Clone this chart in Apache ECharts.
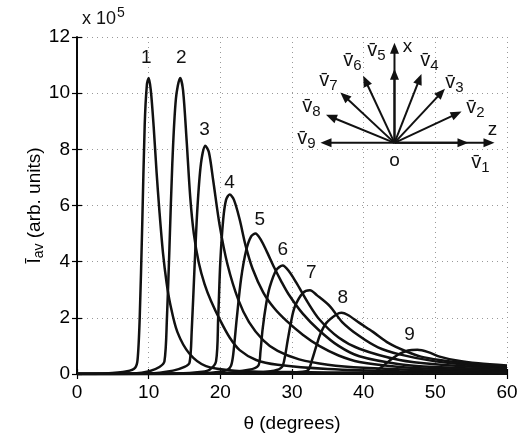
<!DOCTYPE html>
<html>
<head>
<meta charset="utf-8">
<script src="https://cdn.jsdelivr.net/npm/echarts@6/dist/echarts.min.js"></script>
<style>html,body{margin:0;padding:0;background:#fff}#c{width:531px;height:440px}</style>
</head>
<body>
<div id="c"></div>
<script>
// ---- data (values in units of 1e5) ----
const curve1 = [[0,0],[4,0.02],[7,0.1],[8.1,0.22],[8.45,0.5],[8.75,2],[9.1,5.3],[9.45,8.9],[9.75,10.3],[10.0,10.54],[10.3,10.1],[10.7,8.8],[11.1,7.2],[11.5,5.8],[12.0,4.3],[12.5,3.25],[13.0,2.5],[14,1.5],[15.7,0.72],[18,0.28],[22,0.12],[30,0.07],[40,0.05],[60,0.02]];
const curve2 = [[0,0],[8,0.02],[10.1,0.1],[11.5,0.25],[12.2,0.45],[12.55,2],[12.9,4.5],[13.3,7.5],[13.8,9.8],[14.4,10.54],[14.8,10.1],[15.3,8.3],[15.8,6.3],[16.3,5.0],[17.0,3.95],[17.8,3.2],[18.7,2.6],[20,1.9],[21.3,1.3],[22.7,0.85],[25,0.5],[28,0.33],[35,0.18],[45,0.1],[60,0.06]];
const curve3 = [[0,0],[10,0.02],[13.4,0.12],[15.0,0.25],[15.7,0.4],[16.0,1.5],[16.4,3.8],[16.8,5.9],[17.3,7.5],[17.9,8.13],[18.4,7.9],[19.0,6.9],[19.9,5.3],[21,3.9],[22.5,2.65],[24,1.85],[26,1.2],[28,0.82],[31,0.52],[35,0.33],[40,0.22],[50,0.12],[60,0.08]];
const curve4 = [[0,0],[14,0.02],[17.5,0.08],[18.5,0.15],[19.4,0.45],[19.7,2.0],[20.0,4.0],[20.4,5.5],[20.8,6.2],[21.3,6.39],[21.9,6.2],[22.7,5.5],[23.5,4.6],[24.5,3.75],[26,2.9],[27.5,2.35],[29.2,1.9],[31.5,1.4],[33.8,1.0],[36.5,0.66],[39.4,0.43],[45,0.25],[50,0.18],[60,0.12]];
const curve5 = [[0,0],[17,0.02],[20,0.08],[21.0,0.15],[21.5,0.3],[21.8,0.7],[22.3,2.0],[22.9,3.4],[23.6,4.4],[24.3,4.9],[24.9,5.0],[25.6,4.8],[26.5,4.35],[27.5,3.8],[28.5,3.3],[29.5,2.85],[31.5,2.15],[33.8,1.55],[36.5,1.0],[39.4,0.63],[45,0.35],[50,0.25],[60,0.15]];
const curve6 = [[0,0],[20,0.03],[24,0.15],[25.3,0.3],[25.6,0.8],[25.9,1.6],[26.4,2.5],[26.9,3.1],[27.8,3.7],[28.7,3.86],[29.6,3.65],[30.6,3.25],[32.2,2.55],[33.8,1.95],[36.5,1.3],[39.4,0.9],[45,0.5],[50,0.35],[60,0.2]];
const curve7 = [[0,0],[24,0.03],[27.5,0.12],[28.6,0.25],[29.0,0.6],[29.4,1.2],[29.9,1.9],[30.4,2.4],[31.5,2.88],[32.5,2.98],[33.5,2.8],[35.3,2.41],[37,1.85],[39.4,1.35],[42,0.95],[45,0.7],[50,0.45],[55,0.32],[60,0.24]];
const curve8 = [[0,0],[28,0.03],[31.5,0.08],[32.3,0.15],[32.8,0.5],[33.4,1.0],[34.0,1.45],[34.8,1.82],[36.2,2.12],[36.9,2.18],[37.8,2.1],[39.4,1.82],[41.3,1.5],[43.5,1.1],[45.9,0.81],[48,0.62],[50.6,0.5],[55,0.36],[60,0.27]];
const curve9 = [[0,0],[38,0.02],[41.3,0.05],[42,0.15],[43,0.35],[44,0.55],[45,0.72],[46.2,0.84],[47.5,0.86],[49,0.78],[50.6,0.62],[53,0.48],[56,0.38],[60,0.3]];
const curves = [curve1,curve2,curve3,curve4,curve5,curve6,curve7,curve8,curve9];

const peakLabels = ['1','2','3','4','5','6','7','8','9'];
const labelX = [9.68,14.56,17.8,21.3,25.5,28.7,32.7,37.1,46.4];
const labelY = [11.26,11.26,8.68,6.8,5.5,4.43,3.62,2.71,1.41];

const xTicks = {min:0, max:60, interval:10};
const yTicks = {min:0, max:12, interval:2};

// inset diagram: vector directions (deg), label names
const vecAngles = [0,25,47,68.6,90,115,137,157.7,180];
const vecNames = ['1','2','3','4','5','6','7','8','9'];
const insetOrigin = [44.3, 8.23]; // in data coords

const FONT = 'Liberation Sans, Arial, Helvetica, sans-serif';

const chart = echarts.init(document.getElementById('c'), null, {renderer:'canvas'});

const series = curves.map((c,i)=>({
  type:'line', data:c, showSymbol:false, symbol:'none', smooth:0.3,
  lineStyle:{color:'#111', width:2.5}, xAxisIndex:0, yAxisIndex:0, z:3, silent:true
}));
series.push({
  type:'scatter', symbolSize:1, silent:true, itemStyle:{opacity:0},
  data: labelX.map((x,i)=>({value:[x,labelY[i]], name:peakLabels[i]})),
  label:{show:true, position:'inside', formatter:p=>p.name, color:'#111', opacity:1, fontSize:19, fontFamily:FONT}
});

const gridColor = '#999';
chart.setOption({
  animation:false,
  backgroundColor:'#fff',
  grid:{left:77, right:24, top:37, bottom:66},
  xAxis:[{
    type:'value', min:xTicks.min, max:xTicks.max, interval:xTicks.interval,
    axisLine:{show:true, onZero:false, lineStyle:{color:'#000', width:1.6}},
    axisTick:{show:true, inside:true, length:5, lineStyle:{color:'#000', width:1.2}},
    axisLabel:{color:'#000', fontSize:19, fontFamily:FONT, margin:9},
    splitLine:{show:true, lineStyle:{color:gridColor, type:[1,4], width:1}},
    name:'θ (degrees)', nameLocation:'middle', nameGap:40,
    nameTextStyle:{color:'#000', fontSize:19, fontFamily:FONT}
  },{
    type:'value', position:'top', min:xTicks.min, max:xTicks.max, interval:xTicks.interval,
    axisLine:{show:true, lineStyle:{color:'#000', width:1.6}},
    axisTick:{show:true, inside:true, length:5, lineStyle:{color:'#000', width:1.2}},
    axisLabel:{show:false}, splitLine:{show:false}
  }],
  yAxis:[{
    type:'value', min:yTicks.min, max:yTicks.max, interval:yTicks.interval,
    axisLine:{show:true, onZero:false, lineStyle:{color:'#000', width:1.6}},
    axisTick:{show:true, inside:true, length:5, lineStyle:{color:'#000', width:1.2}},
    axisLabel:{color:'#000', fontSize:19, fontFamily:FONT, margin:7},
    splitLine:{show:true, lineStyle:{color:gridColor, type:[1,4], width:1}},
    name:'{b|Ī}{s|av}{b| (arb. units)}', nameLocation:'middle', nameGap:31, nameRotate:90,
    nameMoveOverlap:false,
    nameTextStyle:{color:'#000', fontSize:19, fontFamily:FONT,
      rich:{b:{fontSize:19, fontFamily:FONT, color:'#000'}, s:{fontSize:14, fontFamily:FONT, color:'#000', verticalAlign:'bottom', padding:[8,0,0,0]}}}
  },{
    type:'value', position:'right', min:yTicks.min, max:yTicks.max, interval:yTicks.interval,
    axisLine:{show:true, lineStyle:{color:'#000', width:1.6}},
    axisTick:{show:true, inside:true, length:5, lineStyle:{color:'#000', width:1.2}},
    axisLabel:{show:false}, splitLine:{show:false}
  }],
  series: series
});

// inset vector diagram
const O = chart.convertToPixel({xAxisIndex:0, yAxisIndex:0}, insetOrigin);
const vecLen = 74, axLen = 100, headL = 11, headW = 4.5;
const g = [];
function arrow(ang, len){
  const r = ang*Math.PI/180;
  const dx = Math.cos(r), dy = -Math.sin(r);
  const tx = O[0]+dx*len, ty = O[1]+dy*len;
  const bx = tx-dx*headL, by = ty-dy*headL;
  const px = -dy, py = dx;
  g.push({type:'line', shape:{x1:O[0], y1:O[1], x2:bx+dx*2, y2:by+dy*2}, style:{stroke:'#111', lineWidth:2}, z:10});
  g.push({type:'polygon', shape:{points:[[tx,ty],[bx+px*headW,by+py*headW],[bx-px*headW,by-py*headW]]}, style:{fill:'#111'}, z:10});
}
arrow(0, axLen); arrow(90, axLen);
vecAngles.forEach(a=>arrow(a, vecLen));
const vecLabelOff = [[86,20],[81,-35],[60,-60],[35,-82],[-18,-92],[-42,-82],[-66,-62],[-83,-36],[-88,-4]];
vecNames.forEach((n,i)=>{
  g.push({type:'text', x:O[0]+vecLabelOff[i][0], y:O[1]+vecLabelOff[i][1], z:11,
    style:{text:'{v|v\u0304}{s|'+n+'}', align:'center', verticalAlign:'middle',
      rich:{v:{fontSize:20, fontFamily:FONT, fill:'#111'}, s:{fontSize:15, fontFamily:FONT, fill:'#111', padding:[10,0,0,0]}}}});
});
g.push({type:'text', x:O[0]+13, y:O[1]-96, z:11, style:{text:'x', fontSize:19, fontFamily:FONT, fill:'#111', align:'center', verticalAlign:'middle'}});
g.push({type:'text', x:O[0]+98, y:O[1]-13, z:11, style:{text:'z', fontSize:19, fontFamily:FONT, fill:'#111', align:'center', verticalAlign:'middle'}});
g.push({type:'text', x:O[0], y:O[1]+18, z:11, style:{text:'o', fontSize:19, fontFamily:FONT, fill:'#111', align:'center', verticalAlign:'middle'}});
// exponent label
g.push({type:'text', x:82, y:19, z:11, style:{text:'{a|x 10}{e|5}', verticalAlign:'middle',
  rich:{a:{fontSize:18, fontFamily:FONT, fill:'#111'}, e:{fontSize:14, fontFamily:FONT, fill:'#111', padding:[0,0,12,1]}}}});
chart.setOption({graphic:g});
</script>
</body>
</html>
